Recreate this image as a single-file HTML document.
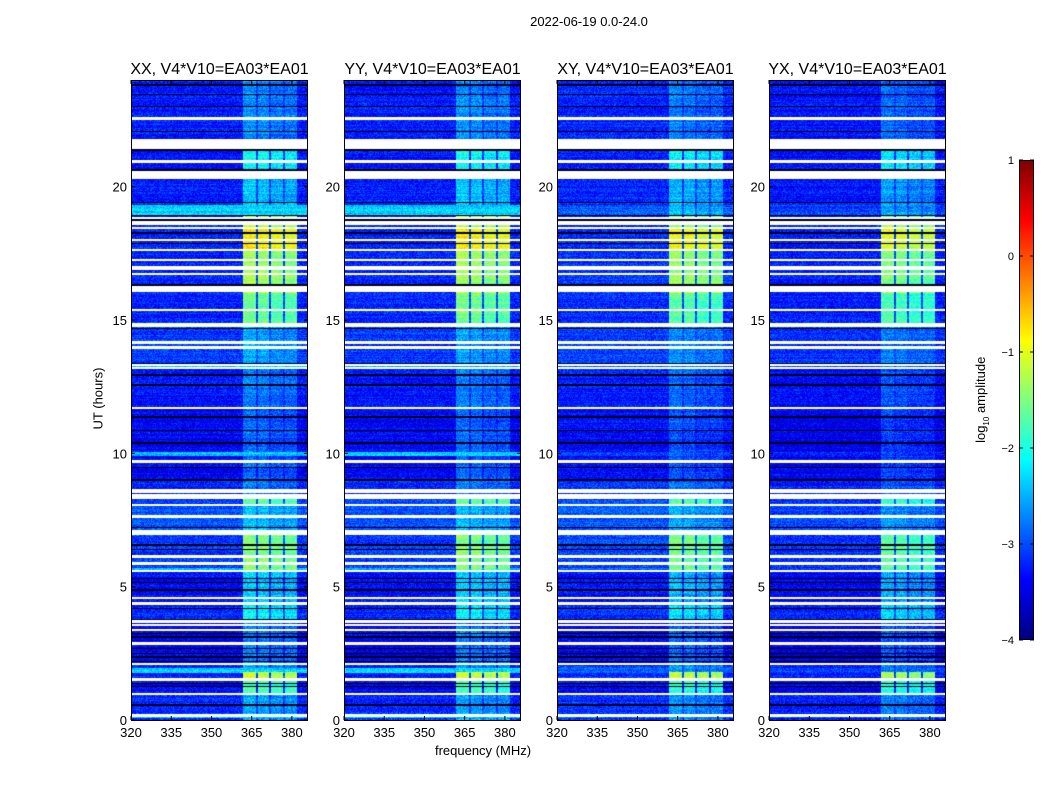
<!DOCTYPE html>
<html><head><meta charset="utf-8">
<style>
body{margin:0;background:#fff;font-family:"Liberation Sans","DejaVu Sans",sans-serif;}
#root{position:relative;width:1050px;height:800px;overflow:hidden;background:#fff;}
.t{position:absolute;white-space:nowrap;color:#000;}
canvas{position:absolute;}
</style></head><body>
<div id="root">
<div class="t" style="left:489px;top:14px;width:200px;text-align:center;font-size:13px;">2022-06-19 0.0-24.0</div>
<div class="t" style="left:383px;top:743px;width:200px;text-align:center;font-size:13px;">frequency (MHz)</div>
<div class="t" style="left:48px;top:391px;width:100px;text-align:center;font-size:13px;transform:rotate(-90deg);">UT (hours)</div>
<div class="t" style="left:922px;top:391px;width:120px;text-align:center;font-size:13px;transform:rotate(-90deg);">log<sub style="font-size:8px">10</sub> amplitude</div>
<svg id="ov" width="1050" height="800" style="position:absolute;left:0;top:0;pointer-events:none"></svg>
</div>
<script>
const panelTitles=["XX, V4*V10=EA03*EA01","YY, V4*V10=EA03*EA01","XY, V4*V10=EA03*EA01","YX, V4*V10=EA03*EA01"];
const xTicks=[320,335,350,365,380];
const yTicks=[0,5,10,15,20];
const cbTicks=[1,0,-1,-2,-3,-4];
const cbLabels=["1","0","\u22121","\u22122","\u22123","\u22124"];
const segStart=[0,1.0,1.5,1.8,2.1,3.7,4.4,5.6,7.0,8.1,8.3,9.0,11.7,13.2,14.8,16.0,16.3,17.6,18.4,18.9,19.4,20.6,21.7];
const segEnd  =[1.0,1.5,1.8,2.1,3.7,4.4,5.6,7.0,8.1,8.3,9.0,11.7,13.2,14.8,16.0,16.3,17.6,18.4,18.9,19.4,20.6,21.7,24];
const segBg   =[-3.2,-3.4,-3.2,-3.2,-3.45,-3.2,-3.35,-3.1,-3.0,-3.1,-3.2,-3.4,-3.3,-3.1,-3.2,-3.2,-3.2,-3.2,-3.2,-3.2,-3.25,-3.3,-3.25];
const segRfi  =[-2.6,-1.8,-1.1,-2.6,-2.8,-2.2,-2.4,-1.5,-2.5,-1.7,-2.8,-2.9,-2.8,-2.6,-1.6,-1.0,-1.35,-0.85,-1.25,-2.4,-2.45,-2.1,-2.7];
const panelRfiOffset=[0,0,-0.1,-0.2];
const panelBgOffset=[0,0,0.05,-0.05];
const whiteStart=[22.52,21.72,21.43,20.91,20.31,18.79,18.67,18.58,18.42,17.98,17.60,17.23,16.98,16.89,16.70,16.06,15.35,14.77,14.13,13.94,13.29,13.17,11.67,9.67,8.62,8.54,8.31,8.04,7.60,6.97,6.10,5.85,5.56,4.54,4.35,3.67,3.54,3.35,2.85,2.08,1.50,0.95,0.12];
const whiteEnd  =[22.58,21.78,21.68,20.97,20.56,18.83,18.71,18.62,18.46,18.02,17.64,17.27,17.02,16.93,16.74,16.25,15.40,14.87,14.18,13.99,13.34,13.22,11.72,9.72,8.66,8.58,8.44,8.09,7.65,7.12,6.15,5.90,5.62,4.58,4.40,3.72,3.59,3.40,2.90,2.13,1.56,1.00,0.19];
const blackRows=[23.81,23.46,23.0,22.06,21.37,20.62,19.4,18.91,18.75,18.27,17.87,16.74,16.31,14.69,13.37,12.94,12.56,11.37,10.85,10.38,9.47,9.0,7.22,6.56,6.4,5.31,5.15,4.87,4.19,3.75,3.25,3.12,2.69,2.5,2.37,2.19,1.37,1.25,0.56];
const bbStart=[18.95,9.9,1.77,5.62,13.2,0.06];
const bbEnd  =[19.31,10.06,1.94,5.69,13.29,0.12];
const bbLevel=[-2.35,-2.4,-2.3,-2.5,-2.45,-2.4];
const panelBbScale=[1,1,0.25,0.2];
const subStart=[361.6,367.3,372.2,377.5];
const subEnd  =[366.5,371.6,376.8,381.9];
const subLevel=[0.05,0.0,-0.1,-0.1];
const fMin=320,fMax=386,tMin=0,tMax=24,vMin=-4,vMax=1;

const panelLeft=[131,344,557,769],PW=177,PT=80,PH=640;
const root=document.getElementById('root');
const ov=document.getElementById('ov');
const NS='http://www.w3.org/2000/svg';
function xs(f,p){return panelLeft[p]+(f-fMin)/(fMax-fMin)*PW;}
function ys(t){return PT+PH-(t-tMin)/(tMax-tMin)*PH;}
function jet(v){let f=(v-vMin)/(vMax-vMin);f=Math.max(0,Math.min(1,f));
 const c=x=>Math.max(0,Math.min(1,1.5-Math.abs(x)));
 return [c(4*f-3)*255,c(4*f-2)*255,c(4*f-1)*255];}
function hash(x,y,p){let h=(x*374761393+y*668265263+p*2147483647)|0;h=(h^(h>>>13))*1274126177|0;h=h^(h>>>16);return ((h>>>0)%10000)/10000;}
function sv(tag,attrs){const e=document.createElementNS(NS,tag);for(const k in attrs)e.setAttribute(k,attrs[k]);ov.appendChild(e);return e;}

for(let p=0;p<4;p++){
 const cv=document.createElement('canvas');
 cv.width=PW;cv.height=PH;cv.style.left=panelLeft[p]+'px';cv.style.top=PT+'px';
 
 
 root.insertBefore(cv,ov);
 const ctx=cv.getContext('2d');const img=ctx.createImageData(PW,PH);
 for(let py=0;py<PH;py++){
  const t=tMax-(py+0.5)/PH*(tMax-tMin);
  let si=0;for(let i=0;i<segStart.length;i++){if(t>=segStart[i]&&t<segEnd[i]){si=i;break;}}
  let white=false;for(let i=0;i<whiteStart.length;i++){if(t>=whiteStart[i]-0.02&&t<=whiteEnd[i]+0.02){white=true;break;}}
  let black=false;for(let i=0;i<blackRows.length;i++){if(Math.abs(ys(blackRows[i])-(PT+py+0.5))<0.75){black=true;break;}}
  let bb=null;for(let i=0;i<bbStart.length;i++){if(t>=bbStart[i]&&t<bbEnd[i]){bb=i;break;}}
  const rowN=(hash(7,py,p)-0.5)*0.25;
  for(let px=0;px<PW;px++){
   const k=(py*PW+px)*4;let col;
   if(white)col=[255,255,255];else if(black)col=[0,0,20];
   else{
    const f=fMin+(px+0.5)/PW*(fMax-fMin);
    let v=segBg[si]+panelBgOffset[p];
    if(bb!==null&&panelBbScale[p]>0.5)v=Math.max(v,bbLevel[bb]);
    else if(bb!==null)v=v+(bbLevel[bb]-v)*panelBbScale[p];
    for(let s=0;s<subStart.length;s++){if(f>=subStart[s]&&f<subEnd[s]){v=Math.max(v,segRfi[si]+panelRfiOffset[p]+subLevel[s]);break;}}
    if(f>=subStart[0]&&f<subEnd[3]&&v<segBg[si]+0.25)v=Math.max(v,segBg[si]+0.2);
    v+=rowN+(hash(px,py,p)-0.5)*0.6;
    col=jet(v);
   }
   img.data[k]=col[0];img.data[k+1]=col[1];img.data[k+2]=col[2];img.data[k+3]=255;
  }
 }
 ctx.putImageData(img,0,0);
 const fr=sv('rect',{x:panelLeft[p]+0.5,y:PT+0.5,width:PW-1,height:PH,fill:'none',stroke:'#000','stroke-width':1});
 
 const tt=sv('text',{x:panelLeft[p]+PW/2,y:74,'text-anchor':'middle','font-size':16,'font-family':'Liberation Sans, sans-serif'});
 tt.textContent=panelTitles[p];
 
 for(const f of xTicks){const x=xs(f,p);
  sv('line',{x1:x,x2:x,y1:PT+PH,y2:PT+PH-4,stroke:'#000'});sv('line',{x1:x,x2:x,y1:PT,y2:PT+4,stroke:'#000'});
  const lb=sv('text',{x:x,y:PT+PH+17,'text-anchor':'middle','font-size':13,'font-family':'Liberation Sans, sans-serif'});lb.textContent=f;
  }
 for(const t of yTicks){const y=ys(t);
  sv('line',{x1:panelLeft[p],x2:panelLeft[p]+4,y1:y,y2:y,stroke:'#000'});sv('line',{x1:panelLeft[p]+PW,x2:panelLeft[p]+PW-4,y1:y,y2:y,stroke:'#000'});
  const lb=sv('text',{x:panelLeft[p]-4,y:y+5,'text-anchor':'end','font-size':13,'font-family':'Liberation Sans, sans-serif'});lb.textContent=t;
  }
}
const CBX=1019,CBW=15,CBT=160,CBH=480;
const cb=document.createElement('canvas');cb.width=CBW;cb.height=CBH;cb.style.left=CBX+'px';cb.style.top=CBT+'px';

root.insertBefore(cb,ov);
{const c=cb.getContext('2d');for(let y=0;y<CBH;y++){const v=vMax-(y+0.5)/CBH*(vMax-vMin);const col=jet(v);c.fillStyle=`rgb(${col[0]|0},${col[1]|0},${col[2]|0})`;c.fillRect(0,y,CBW,1);}}
sv('rect',{x:CBX+0.5,y:CBT+0.5,width:CBW-1,height:CBH-1,fill:'none',stroke:'#000'});
cbTicks.forEach((v,i)=>{const y=CBT+(vMax-v)/(vMax-vMin)*CBH;
 sv('line',{x1:CBX,x2:CBX+4,y1:y,y2:y,stroke:'#000'});sv('line',{x1:CBX+CBW,x2:CBX+CBW-4,y1:y,y2:y,stroke:'#000'});
 const lb=sv('text',{x:CBX-5,y:y+4,'text-anchor':'end','font-size':11,'font-family':'Liberation Sans, sans-serif'});lb.textContent=cbLabels[i];
 });
</script>
</body></html>
